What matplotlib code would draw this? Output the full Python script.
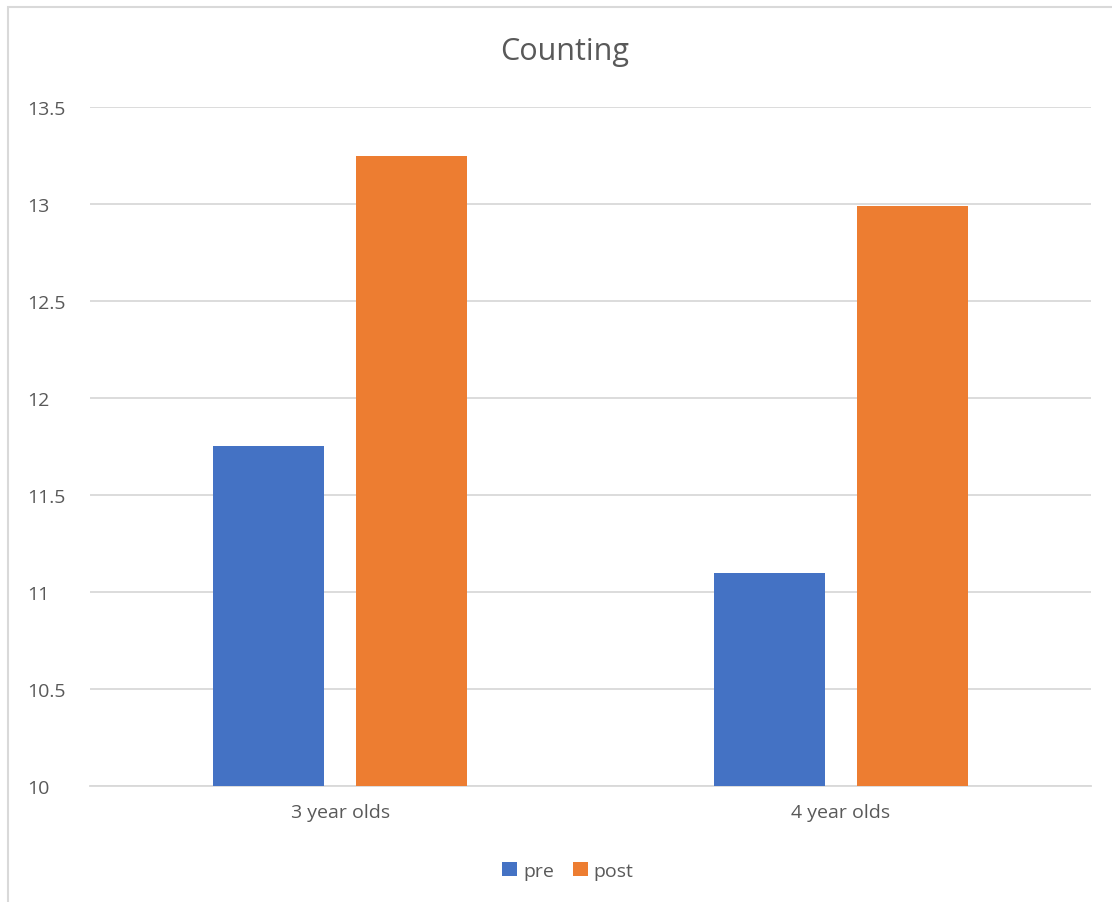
import numpy as np
import matplotlib.pyplot as plt
from matplotlib.patches import Rectangle

## Data
groups = ['3 year olds', '4 year olds']
pre = [11.75, 11.1]
post = [13.25, 12.99]
yticks = [10, 10.5, 11, 11.5, 12, 12.5, 13, 13.5]

blue = '#4472C4'
orange = '#ED7D31'
txt = '#595959'

plt.rcParams['font.family'] = ['Open Sans', 'DejaVu Sans']

W, H = 1112, 903
fig = plt.figure(figsize=(W/100, H/100), dpi=100)

# light frame round the chart (right/bottom run off the picture)
fig.patches.append(Rectangle((8/W, -0.1), 1.2, 1 - 8/H + 0.1, transform=fig.transFigure,
                             fill=False, edgecolor='#D9D9D9', linewidth=1.5))

ax = fig.add_axes([90/W, 116/H, (1091-90)/W, (795-116)/H])

x = np.arange(len(groups))
bw = 0.222
off = 0.143
ax.bar(x - off, pre, bw, color=blue, label='pre', zorder=3)
ax.bar(x + off, post, bw, color=orange, label='post', zorder=3)

ax.set_xlim(-0.5, 1.5)
ax.set_ylim(10, 13.5)
ax.set_yticks(yticks)
ax.set_yticklabels(['10', '10.5', '11', '11.5', '12', '12.5', '13', '13.5'])
ax.set_xticks(x)
ax.set_xticklabels(groups)
ax.yaxis.grid(True, color='#D9D9D9', linewidth=1.3, zorder=0)
for s in ['top', 'right', 'left']:
    ax.spines[s].set_visible(False)
ax.spines['bottom'].set_color('#D9D9D9')
ax.spines['bottom'].set_linewidth(1.3)
ax.tick_params(length=0, labelsize=14, colors=txt)
ax.tick_params(axis='x', pad=12)
for lab in ax.get_yticklabels():
    lab.set_horizontalalignment('left')
ax.yaxis.set_tick_params(pad=45)

fig.text(565/W, 1 - 52/H, 'Counting', ha='center', va='center', fontsize=22, color=txt)

fig.legend(loc='center', bbox_to_anchor=(568/W, 1 - 872/H), ncol=2, frameon=False,
           fontsize=14, labelcolor=txt, handlelength=0.75, handleheight=0.75,
           handletextpad=0.3, columnspacing=1.0)

fig.savefig('out.png', dpi=100)
